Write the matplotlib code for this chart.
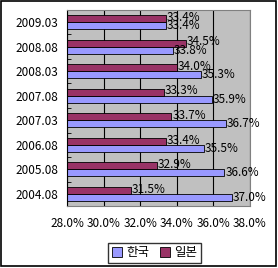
import matplotlib
matplotlib.use('Agg')
import matplotlib.pyplot as plt
from matplotlib.patches import Rectangle
import numpy as np

plt.rcParams['font.family'] = ['Noto Sans CJK KR', 'DejaVu Sans']

categories = ['2009.03', '2008.08', '2008.03', '2007.08',
              '2007.03', '2006.08', '2005.08', '2004.08']
korea = [33.4, 33.8, 35.3, 35.9, 36.7, 35.5, 36.6, 37.0]
japan = [33.4, 34.5, 34.0, 33.3, 33.7, 33.4, 32.9, 31.5]
series_names = ['한국', '일본']
x_ticks = [28, 30, 32, 34, 36, 38]

fig = plt.figure(figsize=(2.78, 2.68), dpi=100)
fig.patch.set_facecolor('white')
fig.patches.append(Rectangle((0.004, 0.008), 0.99, 0.988, transform=fig.transFigure,
                             fill=False, edgecolor='black', linewidth=1.2))

ax = fig.add_axes([0.241, 0.231, 0.658, 0.732])
ax.set_facecolor('#C0C0C0')

y = np.arange(len(categories))
h = 0.29
ax.barh(y + h / 2, korea, height=h, color='#9999FF',
        edgecolor='black', linewidth=0.6, label=series_names[0])
ax.barh(y - h / 2, japan, height=h, color='#993366',
        edgecolor='black', linewidth=0.6, label=series_names[1])

for yy, v in zip(y + h / 2, korea):
    ax.text(v + 0.05, yy, f'{v:.1f}%', va='center', ha='left', fontsize=8.5)
for yy, v in zip(y - h / 2, japan):
    ax.text(v + 0.05, yy - 0.05, f'{v:.1f}%', va='center', ha='left', fontsize=8.5)

ax.set_xlim(28, 38)
ax.set_ylim(len(categories) - 0.5, -0.5)
ax.set_xticks(x_ticks)
ax.set_xticklabels([f'{t:.1f}%' for t in x_ticks], fontsize=8.5)
ax.set_yticks(y)
ax.set_yticklabels(categories, fontsize=8.5)
ax.set_yticks(np.arange(len(categories) + 1) - 0.5, minor=True)
ax.tick_params(axis='y', which='major', length=0, pad=6)
ax.tick_params(axis='y', which='minor', length=3, direction='in', color='black')
ax.tick_params(axis='x', length=0, pad=8)
ax.xaxis.grid(True, color='black', linewidth=0.8)
ax.set_axisbelow(True)
for side in ['top', 'right', 'bottom']:
    ax.spines[side].set_color('#808080')
ax.spines['left'].set_color('black')

fig.legend(loc='center', bbox_to_anchor=(0.556, 0.056), ncol=2,
           fontsize=9, frameon=True, fancybox=False, edgecolor='black',
           handlelength=0.8, handleheight=0.8, handletextpad=0.3,
           columnspacing=0.9, borderpad=0.3)

fig.savefig('out.png', dpi=100)
